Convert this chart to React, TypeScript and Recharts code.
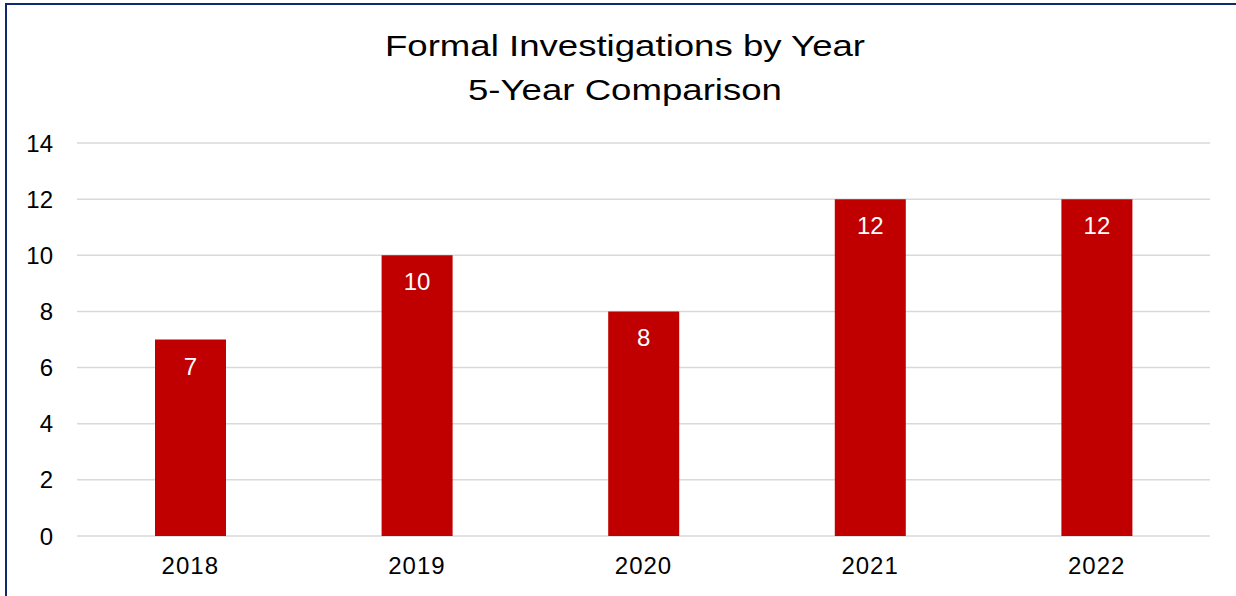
import React from "react";
import { Bar, BarChart, CartesianGrid, LabelList, XAxis, YAxis } from "recharts";

// values
const years = ["2018", "2019", "2020", "2021", "2022"];
const investigations = [7, 10, 8, 12, 12];
const yTicks = [0, 2, 4, 6, 8, 10, 12, 14];

const data = years.map((year, i) => ({ year, count: investigations[i] }));

const FONT = '"Liberation Sans", Arial, sans-serif';

const App = () => {
  return (
    <div
      style={{
        position: "absolute",
        left: 0,
        top: 0,
        width: 1236,
        height: 596,
        overflow: "hidden",
        background: "#fff",
        fontFamily: FONT,
      }}
    >
      {/* frame: only left and top edges show in the reference */}
      <div
        style={{
          position: "absolute",
          left: 5,
          top: 3,
          width: 1231,
          height: 593,
          borderLeft: "2px solid #0d2a6e",
          borderTop: "2px solid #0d2a6e",
          boxSizing: "border-box",
        }}
      />

      <div
        style={{
          position: "absolute",
          left: 0,
          top: 24,
          width: 1250,
          textAlign: "center",
          fontSize: 30,
          lineHeight: "44px",
          color: "#000",
          transform: "scaleX(1.22)",
          transformOrigin: "625px 0",
        }}
      >
        <div>Formal Investigations by Year</div>
        <div>5-Year Comparison</div>
      </div>

      <div style={{ position: "absolute", left: 0, top: 0 }}>
        <BarChart
          width={1236}
          height={596}
          data={data}
          margin={{ top: 143, right: 26, left: 0, bottom: 0 }}
          style={{ fontFamily: FONT }}
        >
          <CartesianGrid vertical={false} stroke="#d9d9d9" strokeWidth={1.5} />
          <XAxis
            dataKey="year"
            height={60}
            axisLine={false}
            tickLine={false}
            tickSize={0}
            tickMargin={21}
            tick={{ fill: "#000", fontSize: 24, letterSpacing: 1 }}
          />
          <YAxis
            width={77}
            domain={[0, 14]}
            ticks={yTicks}
            axisLine={false}
            tickLine={false}
            tickSize={0}
            tickMargin={24}
            tick={{ fill: "#000", fontSize: 24 }}
          />
          <Bar dataKey="count" fill="#c00000" barSize={71} isAnimationActive={false}>
            <LabelList
              dataKey="count"
              position="insideTop"
              offset={18}
              fill="#fff"
              fontSize={24}
            />
          </Bar>
        </BarChart>
      </div>
    </div>
  );
};

export default App;
